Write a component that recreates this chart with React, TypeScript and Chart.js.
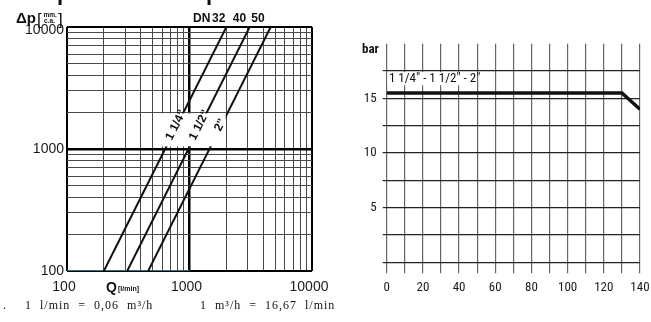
import React, { useEffect, useRef } from 'react';
import { Chart, registerables } from 'chart.js';

Chart.register(...registerables);

// ---------- Left chart: pressure drop (log-log) ----------
const FLOW_LABELS = ['1 1/4"', '1 1/2"', '2"'];
const DN_LABELS = ['32', '40', '50'];
const Q_114 = [200, 2000];
const Q_112 = [310, 3100];
const Q_2 = [460, 4600];
const DP_LINE = [100, 10000];
const BASE_Q = [100, 1000];
const BASE_DP = [100, 100];
const LOG_GRID = [100, 200, 300, 400, 500, 600, 700, 800, 900, 1000, 2000, 3000, 4000, 5000, 6000, 7000, 8000, 9000, 10000];
const LOG_LABELS = [100, 1000, 10000];
const LABEL_BOX_Q = [545, 1975];
const LABEL_BOX_DP = [1050, 1960];
const LABEL_DP = 1570;

// ---------- Right chart: pressure vs temperature ----------
const TEMP = [0, 130, 140];
const PRESSURE = [15.5, 15.5, 14];
const TEMP_LABEL_STEP = 20;
const BAR_LABELS = [5, 10, 15];
const RANGE_LABEL = '1 1/4" - 1 1/2" - 2"';
const RANGE_BOX_T = [0.4, 49];
const RANGE_BOX_P = [16.2, 17.4];

const SANS = "'Liberation Sans', Arial, sans-serif";
const NARROW = "'Liberation Sans Narrow', 'Arial Narrow', 'Roboto Condensed', sans-serif";
const SERIF = "'Liberation Serif', 'Times New Roman', serif";

const logInterp = (xs: number[], ys: number[], yv: number) => {
  const t = (Math.log10(yv) - Math.log10(ys[0])) / (Math.log10(ys[1]) - Math.log10(ys[0]));
  return Math.pow(10, Math.log10(xs[0]) + t * (Math.log10(xs[1]) - Math.log10(xs[0])));
};

const leftDecor = {
  id: 'leftDecor',
  afterDatasetsDraw(chart: any) {
    const { ctx, scales } = chart;
    const x = scales.x;
    const y = scales.y;
    ctx.save();
    const bx0 = x.getPixelForValue(LABEL_BOX_Q[0]);
    const bx1 = x.getPixelForValue(LABEL_BOX_Q[1]);
    const by0 = y.getPixelForValue(LABEL_BOX_DP[1]);
    const by1 = y.getPixelForValue(LABEL_BOX_DP[0]);
    ctx.fillStyle = '#fff';
    ctx.fillRect(bx0, by0, bx1 - bx0, by1 - by0);
    const lines = [Q_114, Q_112, Q_2];
    lines.forEach((qs, i) => {
      const q = logInterp(qs, DP_LINE, LABEL_DP);
      const px = x.getPixelForValue(q);
      const py = y.getPixelForValue(LABEL_DP);
      const ang = Math.atan2(
        y.getPixelForValue(DP_LINE[1]) - y.getPixelForValue(DP_LINE[0]),
        x.getPixelForValue(qs[1]) - x.getPixelForValue(qs[0])
      );
      ctx.save();
      ctx.translate(px - 1, py);
      ctx.rotate(ang);
      ctx.font = `bold 12px ${SANS}`;
      ctx.textAlign = 'center';
      ctx.textBaseline = 'middle';
      ctx.fillStyle = '#111';
      ctx.fillText(FLOW_LABELS[i], 0, 0);
      ctx.restore();
    });
    ctx.restore();
  },
  afterDraw(chart: any) {
    const { ctx, scales } = chart;
    const x = scales.x;
    const y = scales.y;
    ctx.save();
    ctx.fillStyle = '#1a1a1a';
    // top y label sits slightly below its gridline
    ctx.font = `14px ${SANS}`;
    ctx.textAlign = 'right';
    ctx.textBaseline = 'middle';
    ctx.fillText(String(LOG_LABELS[2]), x.left - 3, y.getPixelForValue(LOG_LABELS[2]) + 3.5);

    ctx.fillStyle = '#111';
    ctx.textBaseline = 'alphabetic';
    ctx.textAlign = 'left';
    // cut-off heading above
    ctx.font = `bold 22px ${SANS}`;
    ctx.fillText('p', 57, 0);
    ctx.fillText('p', 206, 0);
    // axis title
    ctx.font = `bold 15px ${SANS}`;
    ctx.fillText('\u0394p', 16, 23);
    ctx.font = `17px ${SANS}`;
    ctx.fillText('[', 37, 25);
    ctx.fillText(']', 58, 25);
    ctx.font = `bold 6.5px ${SANS}`;
    ctx.fillText('mm.', 43.5, 16.5);
    ctx.fillText('c.a.', 44, 22.5);
    // DN labels
    ctx.font = `bold 12px ${SANS}`;
    ctx.fillText('DN', 193, 22);
    ctx.textAlign = 'right';
    [Q_114, Q_112, Q_2].forEach((qs, i) => {
      ctx.fillText(DN_LABELS[i], x.getPixelForValue(qs[1]) - 1 - i * 2.5, 22);
    });
    // x title
    ctx.textAlign = 'left';
    ctx.font = `bold 14px ${SANS}`;
    ctx.fillText('Q', 106, 292);
    ctx.font = `bold 7px ${SANS}`;
    ctx.fillText('[l/min]', 118, 291);
    // footnote
    ctx.font = `12px ${SERIF}`;
    (ctx as any).letterSpacing = '1px';
    ctx.fillText('1  l/min  =  0,06  m\u00B3/h', 25, 309);
    ctx.fillText('1  m\u00B3/h  =  16,67  l/min', 200, 309);
    (ctx as any).letterSpacing = '0px';
    ctx.fillText('.', 3, 309);
    ctx.restore();
  },
};

const rightDecor = {
  id: 'rightDecor',
  afterDatasetsDraw(chart: any) {
    const { ctx, scales } = chart;
    const x = scales.x;
    const y = scales.y;
    ctx.save();
    const bx0 = x.getPixelForValue(RANGE_BOX_T[0]);
    const bx1 = x.getPixelForValue(RANGE_BOX_T[1]);
    const by0 = y.getPixelForValue(RANGE_BOX_P[1]);
    const by1 = y.getPixelForValue(RANGE_BOX_P[0]);
    ctx.fillStyle = '#fff';
    ctx.fillRect(bx0, by0, bx1 - bx0, by1 - by0);
    ctx.fillStyle = '#111';
    ctx.font = `13px ${NARROW}`;
    ctx.textAlign = 'left';
    ctx.textBaseline = 'middle';
    ctx.fillText(RANGE_LABEL, bx0 + 1.5, (by0 + by1) / 2 + 0.5);
    ctx.restore();
  },
  afterDraw(chart: any) {
    const { ctx } = chart;
    ctx.save();
    ctx.fillStyle = '#111';
    ctx.font = `bold 13px ${NARROW}`;
    ctx.textAlign = 'left';
    ctx.textBaseline = 'alphabetic';
    ctx.fillText('bar', 32, 53);
    ctx.restore();
  },
};

export default function App() {
  const leftRef = useRef<HTMLCanvasElement>(null);
  const rightRef = useRef<HTMLCanvasElement>(null);

  useEffect(() => {
    const lineDs = (qs: number[], color = '#111', width = 2) => ({
      data: qs.map((q, i) => ({ x: q, y: DP_LINE[i] })),
      borderColor: color,
      borderWidth: width,
      pointRadius: 0,
      tension: 0,
      fill: false,
    });

    const gridColor = (c: any) => {
      const v = c.tick && c.tick.value;
      return v === 1000 || v === 100 || v === 10000 ? '#000' : '#4a4a4a';
    };
    const gridWidth = (c: any) => {
      const v = c.tick && c.tick.value;
      if (v === 1000) return 2.5;
      if (v === 100 || v === 10000) return 2;
      return 1;
    };
    const setLogTicks = (s: any) => {
      s.ticks = LOG_GRID.map((v) => ({ value: v }));
    };

    const left = new Chart(leftRef.current as HTMLCanvasElement, {
      type: 'line',
      data: {
        datasets: [
          lineDs(Q_114),
          lineDs(Q_112),
          lineDs(Q_2),
          {
            data: BASE_Q.map((q, i) => ({ x: q, y: BASE_DP[i] })),
            borderColor: '#2f6d88',
            borderWidth: 2,
            pointRadius: 0,
            tension: 0,
            fill: false,
          },
        ],
      } as any,
      options: {
        animation: false,
        responsive: false,
        maintainAspectRatio: false,
        layout: { padding: { left: 0, right: 33, top: 27, bottom: 0 } },
        plugins: { legend: { display: false }, tooltip: { enabled: false } },
        scales: {
          x: {
            type: 'logarithmic',
            min: 100,
            max: 10000,
            afterBuildTicks: setLogTicks,
            afterFit: (s: any) => {
              s.height = 51;
              s.paddingLeft = 0;
              s.paddingRight = 0;
            },
            grid: { drawTicks: false, color: gridColor, lineWidth: gridWidth },
            border: { display: false },
            ticks: {
              autoSkip: false,
              maxRotation: 0,
              minRotation: 0,
              padding: 8,
              labelOffset: -3,
              color: '#1a1a1a',
              font: { family: SANS, size: 14 },
              callback: (v: any) => (LOG_LABELS.includes(Number(v)) ? String(v) : ''),
            },
          },
          y: {
            type: 'logarithmic',
            min: 100,
            max: 10000,
            afterBuildTicks: setLogTicks,
            afterFit: (s: any) => {
              s.width = 67;
              s.paddingTop = 0;
              s.paddingBottom = 0;
            },
            grid: { drawTicks: false, color: gridColor, lineWidth: gridWidth },
            border: { display: false },
            ticks: {
              autoSkip: false,
              padding: 3,
              color: '#1a1a1a',
              font: { family: SANS, size: 14 },
              callback: (v: any) =>
                LOG_LABELS.slice(0, 2).includes(Number(v)) ? String(v) : '',
            },
          },
        },
      } as any,
      plugins: [leftDecor],
    });

    const right = new Chart(rightRef.current as HTMLCanvasElement, {
      type: 'line',
      data: {
        datasets: [
          {
            data: TEMP.map((t, i) => ({ x: t, y: PRESSURE[i] })),
            borderColor: '#111',
            borderWidth: 3.5,
            pointRadius: 0,
            tension: 0,
            fill: false,
          },
        ],
      } as any,
      options: {
        animation: false,
        responsive: false,
        maintainAspectRatio: false,
        layout: { padding: { left: 0, right: 11, top: 43.7, bottom: 0 } },
        plugins: { legend: { display: false }, tooltip: { enabled: false } },
        scales: {
          x: {
            type: 'linear',
            min: 0,
            max: 140,
            afterFit: (s: any) => {
              s.height = 59.7;
              s.paddingLeft = 0;
              s.paddingRight = 0;
            },
            grid: { color: '#666', lineWidth: 1.2, drawTicks: true, tickLength: 11 },
            border: { display: false },
            ticks: {
              stepSize: 10,
              autoSkip: false,
              maxRotation: 0,
              minRotation: 0,
              padding: 7,
              color: '#1a1a1a',
              font: { family: NARROW, size: 13 },
              callback: (v: any) => (Number(v) % TEMP_LABEL_STEP === 0 ? String(v) : ''),
            },
          },
          y: {
            type: 'linear',
            min: 0,
            max: 20,
            afterFit: (s: any) => {
              s.width = 56.7;
              s.paddingTop = 0;
              s.paddingBottom = 0;
            },
            grid: {
              color: (c: any) => (c.tick && c.tick.value === 20 ? 'rgba(0,0,0,0)' : '#222'),
              lineWidth: 1.2,
              drawTicks: true,
              tickLength: 4,
            },
            border: { display: false },
            ticks: {
              stepSize: 2.5,
              autoSkip: false,
              padding: 6,
              color: '#1a1a1a',
              font: { family: NARROW, size: 13 },
              callback: (v: any) => (BAR_LABELS.includes(Number(v)) ? String(v) : ''),
            },
          },
        },
      } as any,
      plugins: [rightDecor],
    });

    return () => {
      left.destroy();
      right.destroy();
    };
  }, []);

  return (
    <div style={{ position: 'fixed', left: 0, top: 0, width: 651, height: 322, background: '#fff' }}>
      <canvas
        ref={leftRef}
        width={345}
        height={322}
        style={{ position: 'absolute', left: 0, top: 0, width: 345, height: 322 }}
      />
      <canvas
        ref={rightRef}
        width={321}
        height={322}
        style={{ position: 'absolute', left: 330, top: 0, width: 321, height: 322 }}
      />
    </div>
  );
}
